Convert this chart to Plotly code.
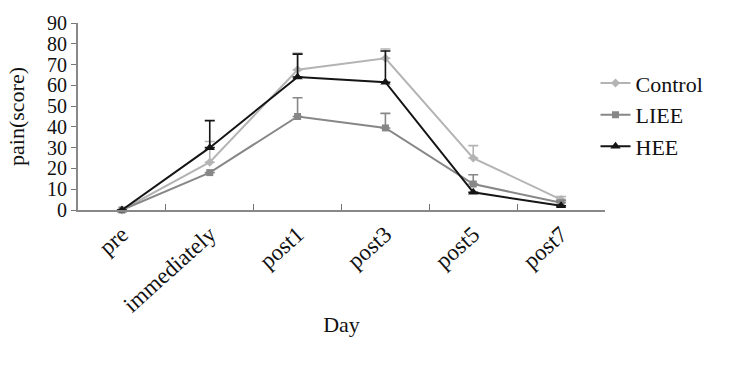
import plotly.graph_objects as go

days = ["pre", "immediately", "post1", "post3", "post5", "post7"]
control = [0, 23, 67.5, 73, 25, 5]
control_err = [0, 10, 8, 4.5, 6, 1.5]
liee = [0, 18, 45, 39.5, 12.5, 3.5]
liee_err = [0, 0, 9, 7, 4.5, 1]
hee = [0, 30, 64, 61.5, 8.5, 2]
hee_err = [0, 13, 11, 15, 0, 0]

series = [
    ("Control", control, control_err, "#b4b4b4", "diamond", 7),
    ("LIEE", liee, liee_err, "#878787", "square", 7),
    ("HEE", hee, hee_err, "#151515", "triangle-up", 9),
]

fig = go.Figure()
for name, vals, errs, col, sym, size in series:
    fig.add_trace(go.Scatter(
        x=days, y=vals, name=name, mode="lines+markers",
        line=dict(color=col, width=2),
        marker=dict(color=col, symbol=sym, size=size),
        error_y=dict(type="data", array=errs, arrayminus=[0]*len(errs),
                     symmetric=False, color=col, thickness=1.6, width=5),
        cliponaxis=False,
    ))

font_family = "Liberation Serif, Times New Roman, serif"
fig.update_layout(
    width=729, height=365,
    margin=dict(l=78, r=124, t=16, b=155),
    plot_bgcolor="white", paper_bgcolor="white",
    font=dict(family=font_family, size=21, color="#111111"),
    showlegend=True,
    legend=dict(x=0.982, y=0.79, xanchor="left", yanchor="top",
                font=dict(size=22, family=font_family, color="#111111"),
                bgcolor="rgba(0,0,0,0)", itemwidth=30),
    xaxis=dict(
        type="category", range=[-0.5, 5.5], tickangle=-42,
        tickson="boundaries", ticks="inside", ticklen=6, tickcolor="#777777",
        showline=True, linecolor="#888888", linewidth=2, showgrid=False,
        tickfont=dict(size=23), title=dict(text="Day", font=dict(size=22), standoff=0),
    ),
    yaxis=dict(
        range=[0, 90], dtick=10, ticks="outside", ticklen=5, tickcolor="#777777",
        showline=True, linecolor="#888888", linewidth=2, showgrid=False, zeroline=False,
        tickfont=dict(size=20), title=dict(text="pain(score)", font=dict(size=22), standoff=16),
    ),
)

fig.write_html("out.html")
